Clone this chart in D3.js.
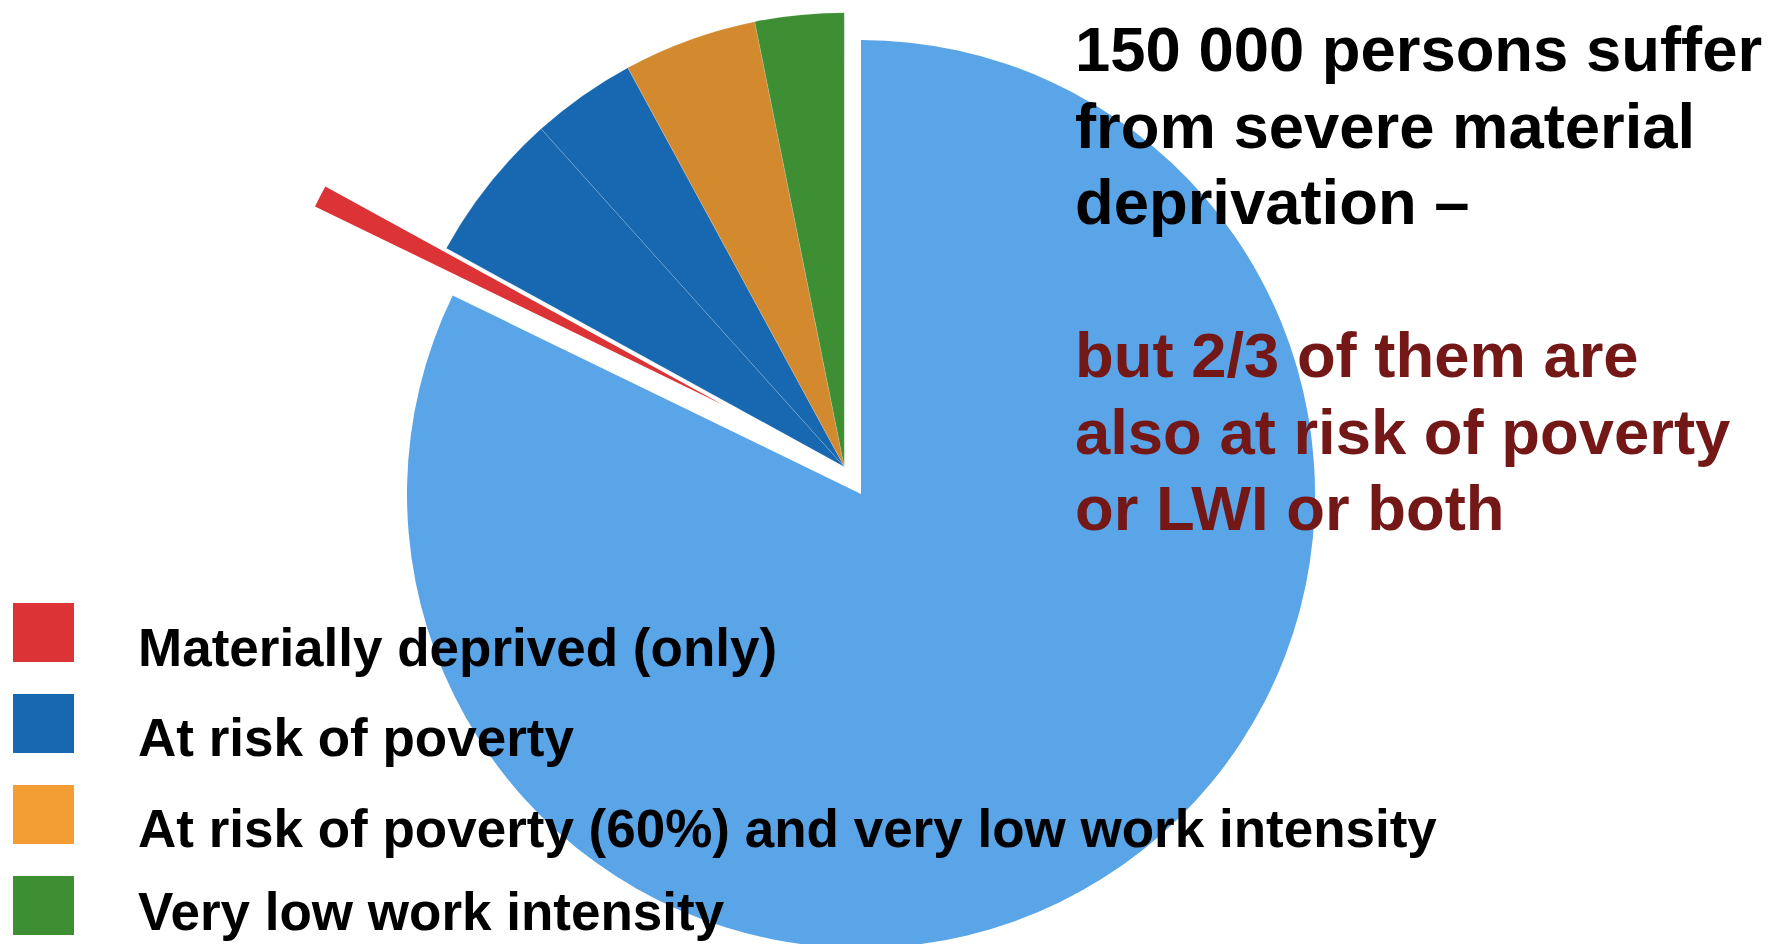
<!DOCTYPE html>
<html>
<head>
<meta charset="utf-8">
<script src="https://cdn.jsdelivr.net/npm/d3@7"></script>
<style>
  html, body { margin: 0; padding: 0; background: #ffffff; }
  svg { display: block; }
  text { font-family: "Liberation Sans", Arial, sans-serif; font-weight: bold; }
</style>
</head>
<body>
<svg id="chart" width="1777" height="944"></svg>
<script>
// ---- data (share of population, %) ----
const categories = [
  "Not severely materially deprived",
  "Materially deprived (only)",
  "At risk of poverty",
  "At risk of poverty ",
  "At risk of poverty (60%) and very low work intensity",
  "Very low work intensity"
];
const values = [82.21, 0.79, 5.37, 3.73, 4.75, 3.16];

const legendLabels = [
  "Materially deprived (only)",
  "At risk of poverty",
  "At risk of poverty (60%) and very low work intensity",
  "Very low work intensity"
];

const headLines = [
  "150 000 persons suffer",
  "from severe material",
  "deprivation \u2013"
];
const subLines = [
  "but 2/3 of them are",
  "also at risk of poverty",
  "or LWI or both"
];

// ---- styles / layout ----
const sliceColors = ["#5AA5E7", "#DB3336", "#1868B1", "#1868B1", "#D38A2F", "#3E8E34"];
const legendColors = ["#DB3336", "#1868B1", "#F39E35", "#3E8E34"];
// explosion: [distance, direction in degrees clockwise from 12 o'clock]
const explode = [[0, 0], [164, 302.9], [32, 328.5], [32, 328.5], [32, 328.5], [32, 328.5]];
const legendBaselines = [666, 756, 847, 930];

const svg = d3.select("#chart");
const cx = 861, cy = 494, R = 454;

const pie = d3.pie().sort(null).value(d => d.v).startAngle(0).endAngle(2 * Math.PI);
const arcs = pie(values.map((v, i) => ({ v, i, name: categories[i] })));
const arc = d3.arc().innerRadius(0).outerRadius(R);

const g = svg.append("g").attr("transform", `translate(${cx},${cy})`);
const drawOrder = [0, 2, 3, 4, 5, 1];
g.selectAll("path.slice")
  .data(drawOrder.map(k => arcs[k]))
  .join("path")
  .attr("class", "slice")
  .attr("d", arc)
  .attr("fill", d => sliceColors[d.data.i])
  .attr("stroke", d => d.data.i >= 2 ? "rgba(255,255,255,0.25)" : "none")
  .attr("stroke-width", 0.6)
  .attr("transform", d => {
    const [dist, ang] = explode[d.data.i];
    const a = ang * Math.PI / 180;
    return `translate(${dist * Math.sin(a)},${-dist * Math.cos(a)})`;
  });

// ---- annotation text ----
const tx = 1075, lh = 76.5, fs = 63.4;
const ann = svg.append("text").attr("x", tx).attr("y", 71).attr("font-size", fs);
headLines.forEach((t, i) => {
  ann.append("tspan").attr("x", tx).attr("y", 71 + i * lh).attr("fill", "#000000").text(t);
});
subLines.forEach((t, i) => {
  ann.append("tspan").attr("x", tx).attr("y", 71 + (i + 4) * lh).attr("fill", "#731717").text(t);
});

// ---- legend ----
const lg = svg.append("g");
const ly = d3.scalePoint().domain(legendLabels).range([603, 876]);
lg.selectAll("rect")
  .data(legendLabels)
  .join("rect")
  .attr("x", 13).attr("y", d => ly(d))
  .attr("width", 61).attr("height", 59)
  .attr("fill", (d, i) => legendColors[i]);
lg.selectAll("text")
  .data(legendLabels)
  .join("text")
  .attr("x", 138).attr("y", (d, i) => legendBaselines[i])
  .attr("font-size", 53)
  .attr("fill", "#000000")
  .text(d => d);
</script>
</body>
</html>
